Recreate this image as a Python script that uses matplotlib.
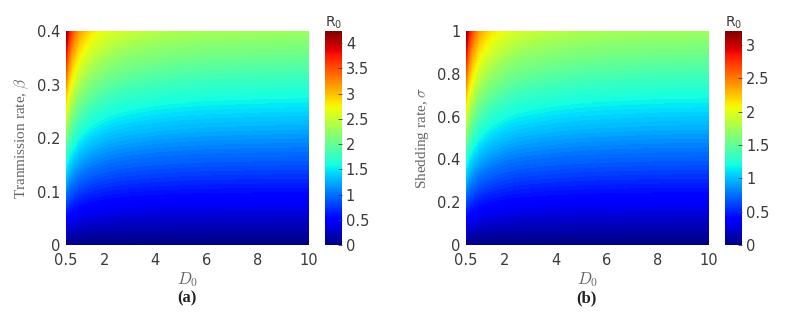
import numpy as np
import matplotlib
matplotlib.use("Agg")
import matplotlib.pyplot as plt
from matplotlib.cm import ScalarMappable
from matplotlib.colors import Normalize

# ---- data ----
D0 = [0.5, 0.6, 0.75, 1.0, 1.25, 1.5, 2.0, 2.5, 3.0, 4.0, 5.0, 6.0, 8.0, 10.0]
# R0 along the top edge (beta = 0.4) of panel (a)
R0_top_a = [4.24, 3.85, 3.50, 3.15, 2.96, 2.82, 2.65, 2.55, 2.49, 2.41, 2.36, 2.33, 2.30, 2.28]
# R0 along the top edge (sigma = 1) of panel (b)
R0_top_b = [3.21, 2.91, 2.65, 2.38, 2.24, 2.14, 2.01, 1.93, 1.89, 1.83, 1.79, 1.77, 1.74, 1.73]
beta_vals = [0.0, 0.1, 0.2, 0.3, 0.4]
sigma_vals = [0.0, 0.25, 0.5, 0.75, 1.0]
x_ticks = [0.5, 2, 4, 6, 8, 10]
ya_ticks = [0, 0.1, 0.2, 0.3, 0.4]
yb_ticks = [0, 0.2, 0.4, 0.6, 0.8, 1]
cba_ticks = [0, 0.5, 1, 1.5, 2, 2.5, 3, 3.5, 4]
cbb_ticks = [0, 0.5, 1, 1.5, 2, 2.5, 3]
cba_labels = ["0", "0.5", "1", "1.5", "2", "2.5", "3", "3.5", "4"]
cbb_labels = ["0", "0.5", "1", "1.5", "2", "2.5", "3"]

plt.rcParams["mathtext.fontset"] = "cm"
txt = "#3a3a3a"

fig = plt.figure(figsize=(7.94, 3.23), dpi=100)

def panel(left, cb_left, yvals, top, yticks, ylabel, cbt, cbl, letter, lx):
    ax = fig.add_axes([left, 0.241, 0.306, 0.663])
    X = np.array(D0)
    Y = np.array(yvals)
    Z = np.outer(Y / Y.max(), np.array(top))
    vmax = max(top)
    levels = np.linspace(0, vmax, 90)
    ax.contourf(X, Y, Z, levels=levels, cmap="jet", vmin=0, vmax=vmax)
    ax.set_xlim(0.5, 10)
    ax.set_ylim(0, Y.max())
    ax.set_xticks(x_ticks)
    ax.set_xticklabels([str(t) for t in x_ticks])
    ax.set_yticks(yticks)
    ax.set_yticklabels([("%g" % t) for t in yticks])
    ax.tick_params(direction="in", length=0, labelsize=10.5, colors=txt)
    ax.tick_params(axis="x", pad=6)
    ax.tick_params(axis="y", pad=4)
    for s in ax.spines.values():
        s.set_visible(False)
    ax.set_xlabel("$D_0$", fontsize=12, color="#666666", labelpad=1)
    ax.set_ylabel(ylabel, fontsize=11, color="#666666", family="Liberation Serif", labelpad=4)
    cax = fig.add_axes([cb_left, 0.241, 0.0214, 0.663])
    sm = ScalarMappable(norm=Normalize(0, vmax), cmap="jet")
    cb = fig.colorbar(sm, cax=cax, ticks=cbt)
    cb.set_ticklabels(cbl)
    cb.outline.set_visible(False)
    cax.tick_params(direction="in", length=3, width=0.6, labelsize=10.5,
                    colors=txt, pad=3)
    cax.set_title(r"$\mathregular{R_0}$", fontsize=10, color=txt, pad=3)
    fig.text(lx, 0.075, letter, fontsize=12, fontweight="bold",
             family="Liberation Serif", ha="center", va="center", color="#222222")

panel(0.083, 0.409, beta_vals, R0_top_a, ya_ticks,
      r"Tranmission rate, $\beta$", cba_ticks, cba_labels, "(a)", 0.236)
panel(0.587, 0.913, sigma_vals, R0_top_b, yb_ticks,
      r"Shedding rate, $\sigma$", cbb_ticks, cbb_labels, "(b)", 0.739)

fig.savefig("out.png", dpi=100)
